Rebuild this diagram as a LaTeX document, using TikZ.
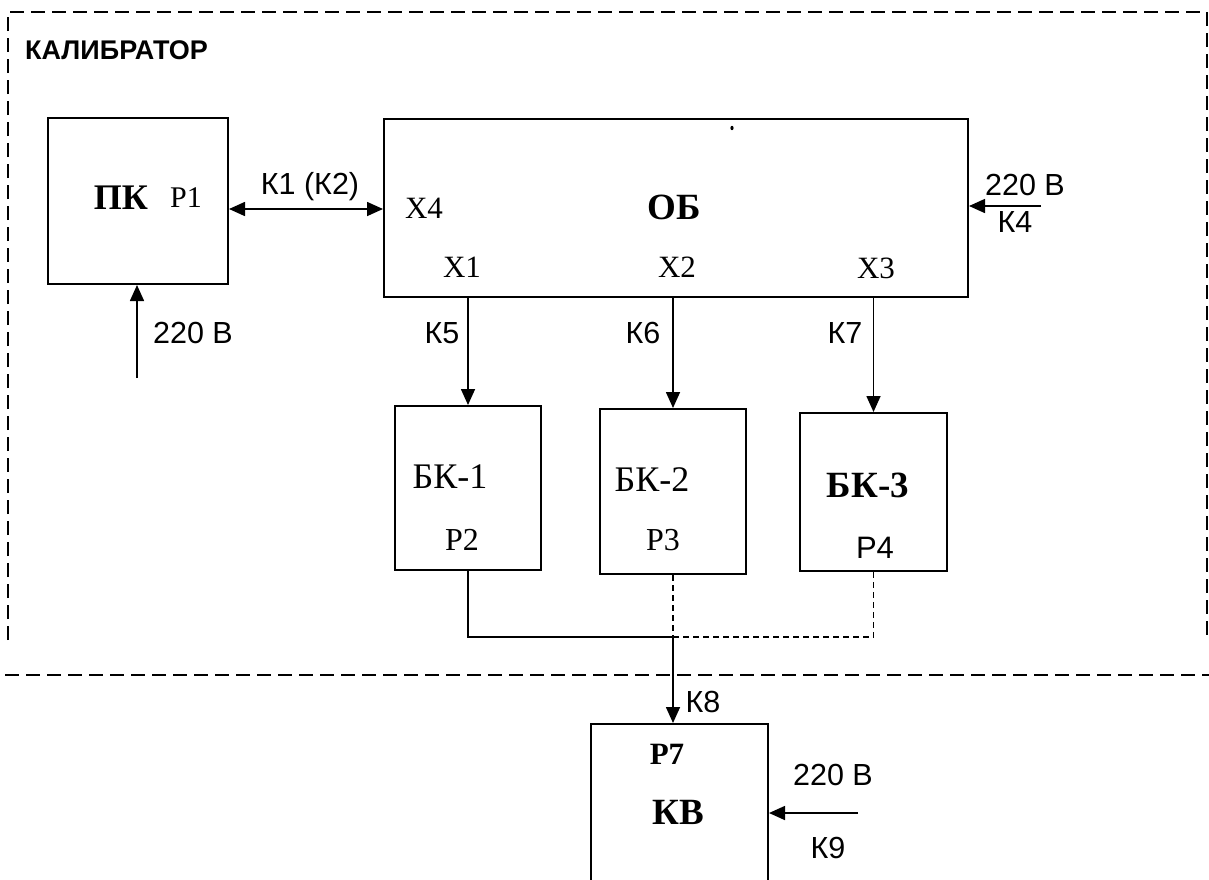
\documentclass[tikz,border=0pt]{standalone}
\usepackage{fontspec}
\setmainfont{Liberation Serif}
\setsansfont{Liberation Sans}
\usetikzlibrary{arrows.meta}

\tikzset{
  blk/.style={draw, line width=2pt, anchor=north west, inner sep=0pt},
  arr/.style={line width=1.6pt, -{Triangle[length=16pt,width=14pt]}},
  darr/.style={line width=1.6pt, {Triangle[length=16pt,width=14pt]}-{Triangle[length=16pt,width=14pt]}},
  calibframe/.style={line width=1.6pt, dash pattern=on 14pt off 7pt},
  busdash/.style={line width=1.6pt, dash pattern=on 6pt off 4pt},
  rm/.style={inner sep=0pt, font=\fontsize{31}{34}\selectfont},
  sf/.style={inner sep=0pt, font=\sffamily\fontsize{30.5}{34}\selectfont}
}

\begin{document}
\begin{tikzpicture}[x=1pt,y=-1pt]
\useasboundingbox (0,0) rectangle (1209,879);

% outer frame of the calibrator
\draw[calibframe] (8,640) -- (8,12) -- (1207,12) -- (1207,640);
\draw[calibframe] (5,675) -- (1209,675);
\node[anchor=west, inner sep=0pt, font=\sffamily\bfseries\fontsize{27}{30}\selectfont] (CAL) at (25,50) {КАЛИБРАТОР};

% blocks
\node[blk, minimum width=180pt, minimum height=166pt] (PK) at (47,117) {};
\node[blk, minimum width=584pt, minimum height=178pt] (OB) at (383,118) {};
\node[blk, minimum width=146pt, minimum height=164pt] (BK1) at (394,405) {};
\node[blk, minimum width=146pt, minimum height=165pt] (BK2) at (599,408) {};
\node[blk, minimum width=147pt, minimum height=158pt] (BK3) at (799,412) {};
\node[blk, minimum width=177pt, minimum height=180pt] (KV) at (590,723) {};

% texts in the blocks
\node[rm, font=\fontsize{36}{40}\selectfont\bfseries] (PKt) at (121,198) {ПК};
\node[rm, font=\fontsize{30}{33}\selectfont] (P1) at (186,198) {Р1};
\node[rm] (X4) at (424,208) {Х4};
\node[rm, font=\fontsize{37}{40}\selectfont\bfseries] (OBt) at (674,207) {ОБ};
\node[rm] (X1) at (462,267) {Х1};
\node[rm] (X2) at (677,267) {Х2};
\node[rm] (X3) at (876,268) {Х3};
\fill (732,128) ellipse (1.6pt and 2.2pt);
\node[rm, font=\fontsize{36}{40}\selectfont] (BK1t) at (450,477) {БК-1};
\node[rm, font=\fontsize{32}{35}\selectfont] (P2) at (462,540) {Р2};
\node[rm, font=\fontsize{36}{40}\selectfont] (BK2t) at (652,480) {БК-2};
\node[rm, font=\fontsize{32}{35}\selectfont] (P3) at (663,540) {Р3};
\node[rm, font=\fontsize{37}{40}\selectfont\bfseries] (BK3t) at (868,485) {БК-3};
\node[sf, font=\sffamily\fontsize{31}{34}\selectfont] (P4) at (875,548) {Р4};
\node[rm, font=\fontsize{31}{34}\selectfont\bfseries] (P7) at (667,754) {Р7};
\node[rm, font=\fontsize{37}{40}\selectfont\bfseries] (KVt) at (678,812) {КВ};

% connections
\coordinate (k1) at (0,209);
\draw[darr] (PK.east |- k1) -- (OB.west |- k1);
\node[sf] (K1) at (310,187) {К1 (К2)};

\coordinate (pkin) at (137,378);
\draw[arr] (pkin) -- (pkin |- PK.south);
\node[sf] (V1) at (193,333) {220 В};

\coordinate (obin) at (1041,206);
\draw[arr] (obin) -- (obin -| OB.east);
\node[sf] (V2) at (1025,185) {220 В};
\node[sf] (K4) at (1015,222) {К4};

\draw[arr] (BK1.north |- OB.south) -- (BK1.north);
\draw[arr] (BK2.north |- OB.south) -- (BK2.north);
\draw[arr] (BK3.north |- OB.south) -- (BK3.north);
\node[sf] (K5) at (442,333) {К5};
\node[sf] (K6) at (643,333) {К6};
\node[sf] (K7) at (845,333) {К7};

\coordinate (bus) at (673,637);
\draw[line width=1.6pt] (BK1.south) |- (bus);
\draw[busdash] (bus |- BK2.south) -- (bus);
\draw[busdash] (bus) -| (BK3.south);
\draw[arr] (bus) -- (bus |- KV.north);
\node[sf] (K8) at (703,702) {К8};

\coordinate (kvin) at (858,813);
\draw[arr] (kvin) -- (kvin -| KV.east);
\node[sf] (V3) at (833,775) {220 В};
\node[sf] (K9) at (828,848) {К9};

\end{tikzpicture}
\end{document}
